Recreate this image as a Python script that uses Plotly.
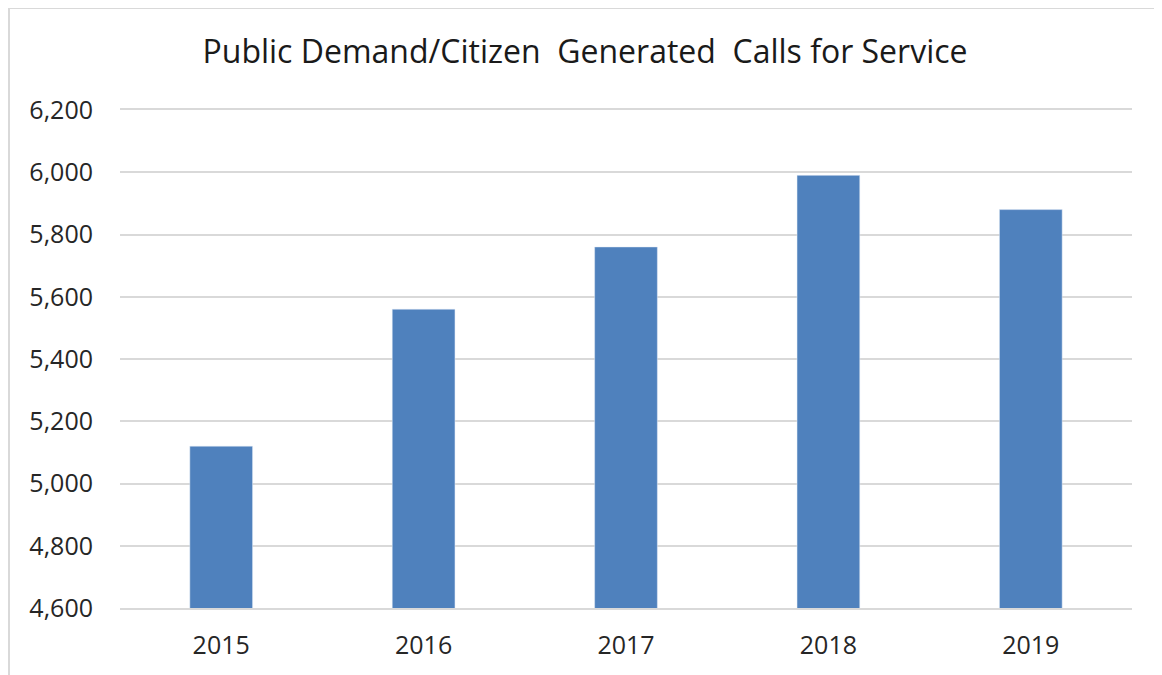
import plotly.graph_objects as go

years = ["2015", "2016", "2017", "2018", "2019"]
calls = [5120, 5560, 5760, 5990, 5880]
y_ticks = [4600, 4800, 5000, 5200, 5400, 5600, 5800, 6000, 6200]
title_text = "Public Demand/Citizen  Generated  Calls for Service"

# page body has an 8px margin; figure sized so it fits the 1162x675 window exactly
W, H = 1154, 667
ml, mr, mt, mb = 112, 30, 102, 67
pw, ph = W - ml - mr, H - mt - mb

fig = go.Figure(go.Bar(x=years, y=calls, marker_color="#4f81bd", width=0.31))

font_family = "Open Sans, Liberation Sans, sans-serif"
grid_col = "#d9d9d9"

def px_to_paper_x(px):
    return (px - ml) / pw

def px_to_paper_y(py):
    return (H - mb - py) / ph

fig.update_layout(
    width=W, height=H,
    margin=dict(l=ml, r=mr, t=mt, b=mb),
    paper_bgcolor="white", plot_bgcolor="white",
    showlegend=False,
    font=dict(family=font_family, color="#262626", size=25),
    title=dict(text=title_text, x=(585 - 8) / W, xref="container", xanchor="center",
               y=1 - (52 - 8) / H, yref="container", yanchor="middle",
               font=dict(size=32, color="#1a1a1a", family=font_family)),
    xaxis=dict(type="category", showgrid=False, ticks="", automargin=False,
               showline=True, mirror=True, linecolor=grid_col, linewidth=2,
               ticklabelstandoff=14, tickfont=dict(size=25)),
    yaxis=dict(range=[4600, 6200], tickvals=y_ticks, tickformat=",d",
               showgrid=True, gridcolor=grid_col, gridwidth=2, automargin=False,
               zeroline=False, showline=False, ticks="",
               ticklabelstandoff=26, tickfont=dict(size=25)),
    shapes=[dict(type="rect", xref="paper", yref="paper",
                 x0=px_to_paper_x(1), x1=px_to_paper_x(1152),
                 y0=px_to_paper_y(700), y1=px_to_paper_y(0),
                 line=dict(color=grid_col, width=2), layer="below")],
)

fig.write_html("out.html")
